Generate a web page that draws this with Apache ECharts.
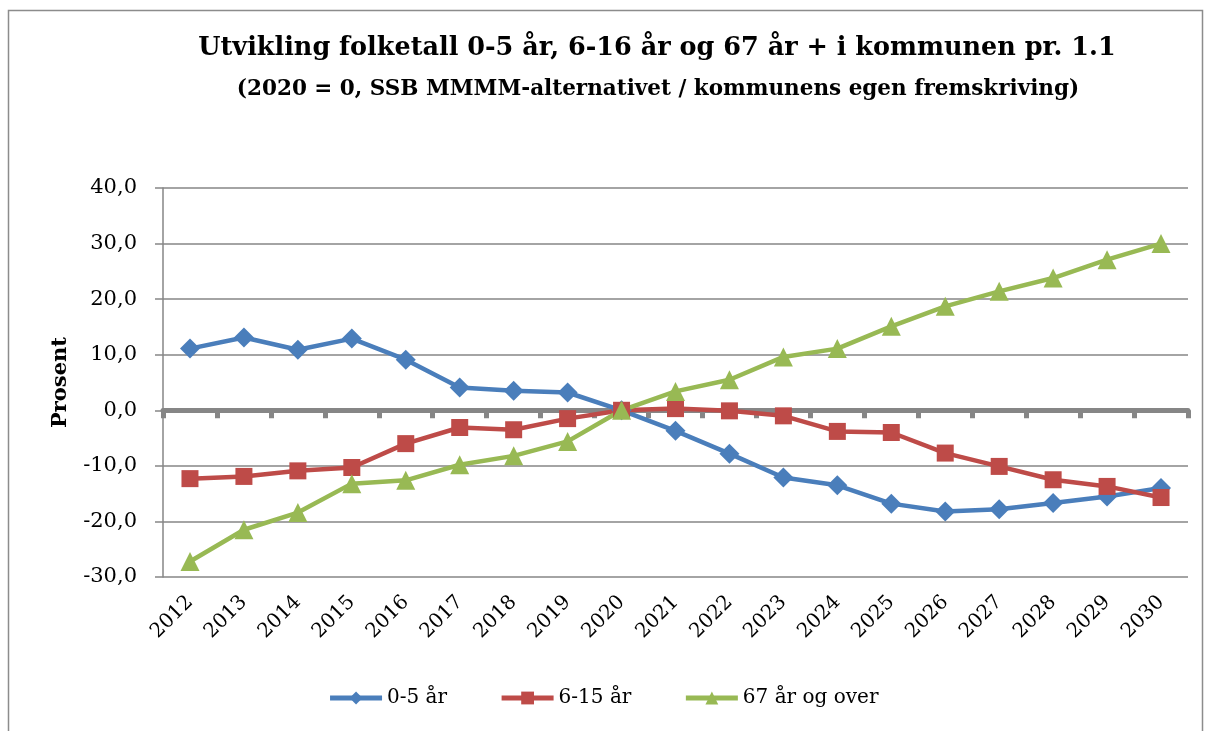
<!DOCTYPE html>
<html><head><meta charset="utf-8">
<script src="https://cdn.jsdelivr.net/npm/echarts@6/dist/echarts.min.js"></script>
<style>html,body{margin:0;padding:0;background:#fff}#c{width:1206px;height:731px}</style>
</head><body><div id="c"></div>
<script>
const years = ['2012','2013','2014','2015','2016','2017','2018','2019','2020','2021','2022','2023','2024','2025','2026','2027','2028','2029','2030'];
const age0_5 = [11.1,13.1,10.9,12.9,9.1,4.1,3.5,3.2,0,-3.7,-7.8,-12.1,-13.5,-16.8,-18.2,-17.8,-16.7,-15.5,-14.0];
const age6_15 = [-12.3,-11.9,-10.9,-10.3,-6.0,-3.1,-3.5,-1.5,0,0.3,-0.1,-1.0,-3.8,-4.0,-7.7,-10.1,-12.5,-13.7,-15.7];
const age67 = [-27.2,-21.5,-18.4,-13.2,-12.6,-9.8,-8.2,-5.6,0,3.4,5.5,9.6,11.1,15.1,18.7,21.4,23.8,27.1,30.0];
const seriesNames = ['0-5 år','6-15 år','67 år og over'];
const yTicks = {min:-30, max:40, interval:10};

const serif = 'DejaVu Serif';
const chart = echarts.init(document.getElementById('c'));
const mk = (name, data, color, symbol, size) => ({
  name, type:'line', data, color, symbol, symbolSize:size,
  lineStyle:{width:4.5, color}, itemStyle:{color}, z:3
});
chart.setOption({
  animation:false,
  title:[
    {text:'Utvikling folketall 0-5 år, 6-16 år og 67 år + i kommunen pr. 1.1', left:652, top:30, textAlign:'center',
     textStyle:{fontFamily:serif, fontWeight:'bold', fontSize:25.5, color:'#000'}},
    {text:'(2020 = 0, SSB MMMM-alternativet / kommunens egen fremskriving)', left:653, top:73, textAlign:'center',
     textStyle:{fontFamily:serif, fontWeight:'bold', fontSize:21.5, color:'#000'}}
  ],
  graphic:[{type:'rect', shape:{x:8.5,y:10.5,width:1194,height:760}, style:{fill:'none', stroke:'#8c8c8c', lineWidth:1.5}, silent:true}],
  legend:{bottom:18, left:'center', itemWidth:52, itemHeight:16, itemGap:52,
    lineStyle:{width:5},
    textStyle:{fontFamily:serif, fontSize:20, color:'#000'}, data:seriesNames},
  grid:{left:163, right:18, top:188, bottom:154},
  xAxis:[
    {type:'category', data:years, boundaryGap:true, position:'bottom',
     axisLine:{show:false, onZero:false}, axisTick:{show:false},
     axisLabel:{rotate:45, fontFamily:serif, fontSize:20, color:'#000', margin:22}},
    {type:'category', data:years, boundaryGap:true, position:'bottom',
     axisLine:{show:true, onZero:true, lineStyle:{color:'#868686', width:5}},
     axisTick:{show:true, length:8, lineStyle:{color:'#868686', width:5}},
     axisLabel:{show:false}}
  ],
  yAxis:{type:'value', min:yTicks.min, max:yTicks.max, interval:yTicks.interval,
    name:'Prosent', nameLocation:'middle', nameGap:92, nameRotate:90,
    nameTextStyle:{fontFamily:serif, fontWeight:'bold', fontSize:21, color:'#000'},
    axisLine:{show:true, lineStyle:{color:'#868686', width:1.5}},
    axisTick:{show:true, length:8, lineStyle:{color:'#868686', width:1.5}},
    splitLine:{lineStyle:{color:'#868686', width:1.5}},
    axisLabel:{fontFamily:serif, fontSize:21, color:'#000', margin:26,
      formatter:v=>v.toFixed(1).replace('.',',')}},
  series:[
    mk(seriesNames[0], age0_5, '#4A7EBB', 'diamond', 20),
    mk(seriesNames[1], age6_15, '#BE4B48', 'rect', 17),
    mk(seriesNames[2], age67, '#98B954', 'triangle', 19)
  ]
});
</script></body></html>
